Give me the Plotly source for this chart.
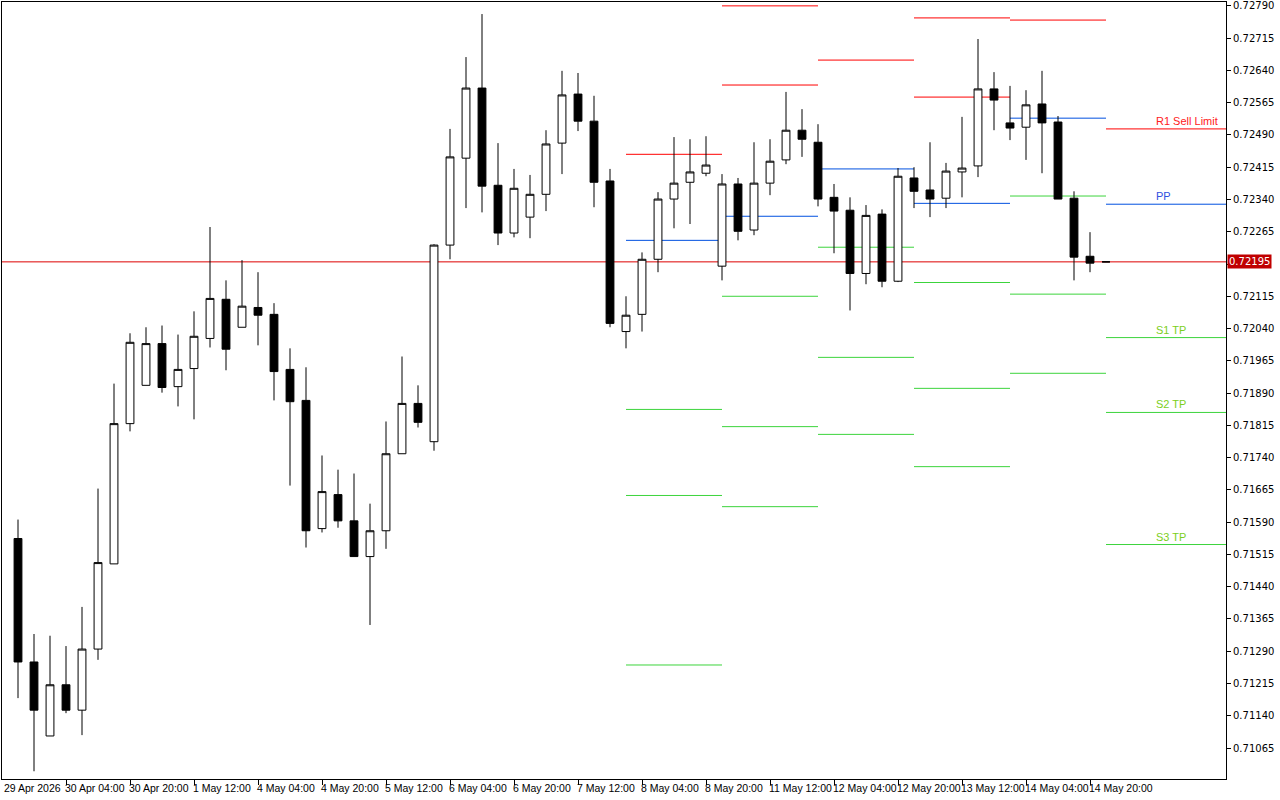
import plotly.graph_objects as go

opens = [0.71552,0.71265,0.71093,0.71212,0.71153,0.71295,0.71493,0.71819,0.71908,0.72005,
0.71905,0.71947,0.72017,0.72108,0.72043,0.72089,0.72073,0.71945,0.71873,0.71575,
0.71654,0.71593,0.71510,0.71570,0.71749,0.71866,0.71777,0.72234,0.72436,0.72599,
0.72373,0.72262,0.72299,0.72352,0.72471,0.72585,0.72522,0.72383,0.72033,0.72073,
0.72201,0.72341,0.72380,0.72401,0.72185,0.72376,0.72269,0.72378,0.72432,0.72501,
0.72473,0.72345,0.72315,0.72168,0.72306,0.72150,0.72390,0.72362,0.72343,0.72404,
0.72418,0.72597,0.72518,0.72508,0.72562,0.72520,0.72343,0.72208,0.72195]
highs = [0.71596,0.71330,0.71326,0.71302,0.71393,0.71668,0.71912,0.72029,0.72043,0.72047,
0.72026,0.72080,0.72276,0.72152,0.72199,0.72171,0.72099,0.71994,0.71950,0.71745,
0.71712,0.71703,0.71633,0.71824,0.71975,0.71908,0.72236,0.72504,0.72671,0.72771,
0.72471,0.72411,0.72397,0.72501,0.72639,0.72634,0.72581,0.72411,0.72115,0.72217,
0.72357,0.72485,0.72480,0.72487,0.72399,0.72390,0.72473,0.72480,0.72590,0.72550,
0.72515,0.72376,0.72345,0.72327,0.72317,0.72413,0.72415,0.72473,0.72425,0.72532,
0.72713,0.72636,0.72604,0.72594,0.72639,0.72534,0.72359,0.72264,0.72195]
lows = [0.71181,0.71011,0.71093,0.71146,0.71095,0.71270,0.71493,0.71801,0.71908,0.71891,
0.71859,0.71829,0.71996,0.71943,0.72043,0.72001,0.71873,0.71675,0.71531,0.71566,
0.71577,0.71510,0.71351,0.71528,0.71749,0.71810,0.71756,0.72201,0.72320,0.72310,
0.72234,0.72252,0.72250,0.72313,0.72399,0.72499,0.72322,0.72043,0.71994,0.72033,
0.72171,0.72273,0.72283,0.72394,0.72152,0.72245,0.72257,0.72350,0.72422,0.72439,
0.72324,0.72215,0.72082,0.72143,0.72136,0.72148,0.72320,0.72299,0.72320,0.72345,
0.72392,0.72501,0.72478,0.72432,0.72401,0.72341,0.72152,0.72171,0.72195]
closes = [0.71265,0.71153,0.71212,0.71153,0.71295,0.71496,0.71819,0.72008,0.72005,0.71903,
0.71945,0.72022,0.72110,0.71992,0.72092,0.72071,0.71940,0.71870,0.71570,0.71661,
0.71593,0.71510,0.71570,0.71749,0.71866,0.71822,0.72234,0.72439,0.72599,0.72371,
0.72262,0.72366,0.72352,0.72469,0.72583,0.72522,0.72380,0.72052,0.72071,0.72201,
0.72341,0.72378,0.72404,0.72420,0.72376,0.72266,0.72378,0.72429,0.72501,0.72480,
0.72341,0.72313,0.72168,0.72303,0.72150,0.72394,0.72359,0.72341,0.72406,0.72413,
0.72597,0.72571,0.72506,0.72560,0.72518,0.72341,0.72206,0.72192,0.72195]

tick_labels = ["30 Apr 04:00","30 Apr 20:00","1 May 12:00","4 May 04:00","4 May 20:00",
"5 May 12:00","6 May 04:00","6 May 20:00","7 May 12:00","8 May 04:00","8 May 20:00",
"11 May 12:00","12 May 04:00","12 May 20:00","13 May 12:00","14 May 04:00","14 May 20:00"]
tick_index = [3 + 4 * k for k in range(len(tick_labels))]
first_label = "29 Apr 2026"

# pivot segments: start/end candle index and levels (None = off chart)
seg_start = [38, 44, 50, 56, 62, 68]
seg_end = [44, 50, 56, 62, 68, 75.5]
r2 = [None, 0.72790, None, 0.72762, None, None]
r1 = [0.72445, 0.72606, 0.72664, 0.72578, 0.72757, 0.72504]
pp = [0.72245, 0.72301, 0.72411, 0.72331, 0.72529, 0.72329]
s1 = [0.71852, 0.72115, 0.72229, 0.72147, 0.72348, 0.72019]
s2 = [0.71652, 0.71812, 0.71973, 0.71901, 0.72120, 0.71845]
s3 = [0.71258, 0.71626, 0.71794, 0.71719, 0.71936, 0.71538]
current_price = 0.72195

price_ticks = [0.71065, 0.71140, 0.71215, 0.71290, 0.71365, 0.71440, 0.71515, 0.71590,
               0.71665, 0.71740, 0.71815, 0.71890, 0.71965, 0.72040, 0.72115, 0.72190,
               0.72265, 0.72340, 0.72415, 0.72490, 0.72565, 0.72640, 0.72715, 0.72790]
hidden_tick = 0.72190  # covered by the current price box

x = list(range(len(opens)))
fig = go.Figure()
fig.add_trace(go.Candlestick(
    x=x, open=opens, high=highs, low=lows, close=closes,
    increasing=dict(line=dict(color="black", width=1), fillcolor="white"),
    decreasing=dict(line=dict(color="black", width=1), fillcolor="black"),
    whiskerwidth=0, showlegend=False, hoverinfo="skip"))

RED, BLUE, GREEN = "#ff0000", "#0050e0", "#3cd43c"
for i in range(len(seg_start)):
    for lv, col in ((r2[i], RED), (r1[i], RED), (pp[i], BLUE), (s1[i], GREEN), (s2[i], GREEN), (s3[i], GREEN)):
        if lv is None:
            continue
        fig.add_shape(type="line", x0=seg_start[i], x1=seg_end[i], y0=lv, y1=lv,
                      line=dict(color=col, width=1), layer="below")

fig.add_shape(type="line", xref="paper", x0=0, x1=1, y0=current_price, y1=current_price,
              line=dict(color="#dd0000", width=1), layer="below")

lab_font = dict(family="DejaVu Sans", size=10)
x_font = dict(family="Liberation Sans", size=10.5)
last = len(seg_start) - 1
for txt, lv, col in (("R1 Sell Limit", r1[last], "#ff2020"), ("PP", pp[last], "#3050e0"),
                     ("S1 TP", s1[last], "#7ccf1c"), ("S2 TP", s2[last], "#7ccf1c"), ("S3 TP", s3[last], "#7ccf1c")):
    fig.add_annotation(x=71, y=lv, text=txt, showarrow=False, xanchor="left", yanchor="bottom",
                       font=dict(color=col, family="Liberation Sans", size=11))

fig.add_annotation(xref="paper", x=1, y=current_price, text=f"{current_price:.5f}", showarrow=False,
                   xanchor="left", bgcolor="#c00000", font=dict(color="white", **lab_font),
                   borderpad=1, xshift=1)

fig.add_annotation(x=-1, yref="paper", y=0, text=first_label, showarrow=False, xanchor="left",
                   yanchor="top", yshift=-1, font=dict(color="black", **x_font))
for ti, tl in zip(tick_index, tick_labels):
    fig.add_annotation(x=ti, yref="paper", y=0, text=tl, showarrow=False, xanchor="left",
                       yanchor="top", yshift=-1, xshift=-3, font=dict(color="black", **x_font))

fig.update_layout(
    width=1280, height=800, margin=dict(l=2, r=54, t=2, b=21),
    paper_bgcolor="white", plot_bgcolor="white",
    xaxis=dict(range=[-1, 75.5], tickvals=tick_index, ticktext=[""] * len(tick_index),
               ticks="outside", ticklen=5, tickcolor="black", showgrid=False, zeroline=False,
               showline=True, linecolor="black", mirror=True, rangeslider=dict(visible=False),
               fixedrange=True),
    yaxis=dict(range=[0.70993, 0.72799], side="right", tickvals=price_ticks,
               ticktext=["" if v == hidden_tick else f"{v:.5f}" for v in price_ticks],
               ticks="outside", ticklen=4,
               tickcolor="black", showgrid=False, zeroline=False, showline=True,
               linecolor="black", mirror=True, tickfont=dict(color="black", **lab_font),
               automargin=False),
)
fig.write_html("out.html", config={"displayModeBar": False},
               post_script="document.body.style.margin='0';")
